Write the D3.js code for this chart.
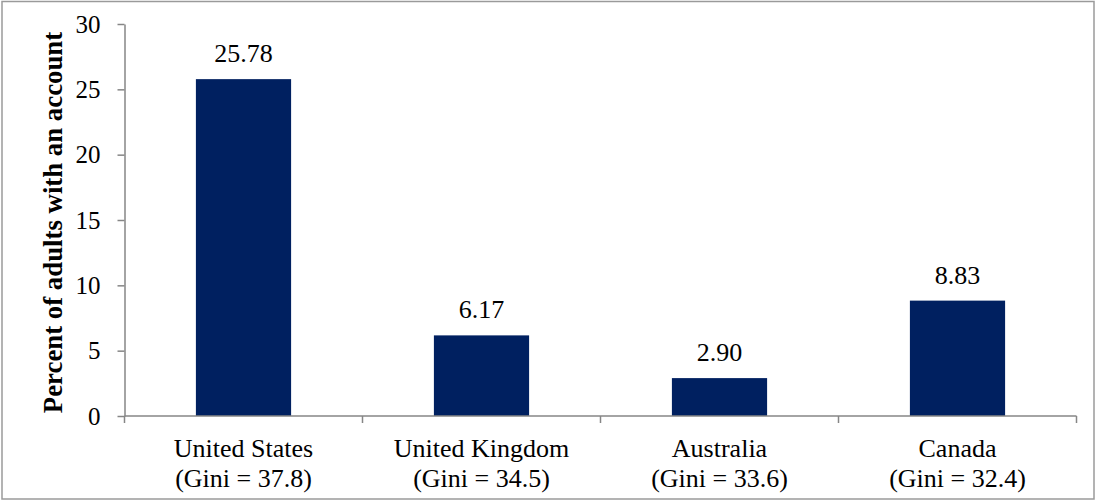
<!DOCTYPE html>
<html>
<head>
<meta charset="utf-8">
<script src="https://cdn.jsdelivr.net/npm/d3@7"></script>
<style>
  html, body { margin: 0; padding: 0; background: #fff; }
  svg { display: block; }
  svg text { font-family: "Liberation Serif", "Times New Roman", Times, serif; }
</style>
</head>
<body>
<svg id="chart" width="1096" height="501"></svg>
<script>
// Account ownership by country, with Gini index in the category labels
const countries = ["United States", "United Kingdom", "Australia", "Canada"];
const giniLabels = ["(Gini = 37.8)", "(Gini = 34.5)", "(Gini = 33.6)", "(Gini = 32.4)"];
const accountShare = [25.78, 6.17, 2.90, 8.83];
const yTicks = [0, 5, 10, 15, 20, 25, 30];

const margin = { left: 124.5, top: 24 };
const plotRight = 1076.5;
const axisColor = "#868686";
const barColor = "#002060";
const fs = 26;

const svg = d3.select("#chart");

// outer frame
svg.append("rect")
  .attr("x", 2).attr("y", 1.5)
  .attr("width", 1092).attr("height", 497.5)
  .attr("fill", "#fff")
  .attr("stroke", "#9a9a9a").attr("stroke-width", 1.5);

const x = d3.scaleBand()
  .domain(countries)
  .range([margin.left, plotRight])
  .paddingInner(0.6).paddingOuter(0.3);

const xOuter = d3.scaleBand()
  .domain(countries)
  .range([margin.left, plotRight]);

const y = d3.scaleLinear().domain([0, 30]).range([416, 24]);

// bars
svg.append("g").selectAll("rect")
  .data(accountShare)
  .join("rect")
  .attr("x", (d, i) => x(countries[i]))
  .attr("width", x.bandwidth())
  .attr("y", d => y(d))
  .attr("height", d => y(0) - y(d))
  .attr("fill", barColor);

// value labels
svg.append("g").selectAll("text")
  .data(accountShare)
  .join("text")
  .attr("x", (d, i) => x(countries[i]) + x.bandwidth() / 2)
  .attr("y", d => y(d) - 17)
  .attr("text-anchor", "middle")
  .attr("font-size", fs)
  .attr("fill", "#000")
  .text(d => d.toFixed(2));

// y axis
const yAxis = svg.append("g")
  .attr("transform", `translate(${margin.left},0)`)
  .call(d3.axisLeft(y).tickValues(yTicks).tickSize(7).tickSizeOuter(0).tickPadding(17));
yAxis.attr("font-family", null);
yAxis.select(".domain").attr("stroke", axisColor).attr("stroke-width", 1.5);
yAxis.selectAll(".tick line").attr("stroke", axisColor).attr("stroke-width", 1.5);
yAxis.selectAll(".tick text")
  .attr("font-size", 25).attr("fill", "#000");

// x axis baseline with category-boundary ticks
const xg = svg.append("g");
xg.append("line")
  .attr("x1", margin.left).attr("x2", plotRight)
  .attr("y1", y(0)).attr("y2", y(0))
  .attr("stroke", axisColor).attr("stroke-width", 1.5);
const boundaries = countries.map(c => xOuter(c)).concat([plotRight]);
xg.selectAll("line.bt")
  .data(boundaries)
  .join("line")
  .attr("class", "bt")
  .attr("x1", d => d).attr("x2", d => d)
  .attr("y1", y(0)).attr("y2", y(0) + 7)
  .attr("stroke", axisColor).attr("stroke-width", 1.5);

// category labels (two lines)
const cat = svg.append("g").selectAll("text")
  .data(countries)
  .join("text")
  .attr("text-anchor", "middle")
  .attr("font-size", fs)
  .attr("fill", "#000");
cat.append("tspan")
  .attr("x", d => xOuter(d) + xOuter.bandwidth() / 2)
  .attr("y", 457)
  .text(d => d);
cat.append("tspan")
  .attr("x", d => xOuter(d) + xOuter.bandwidth() / 2)
  .attr("y", 487)
  .text((d, i) => giniLabels[i]);

// y axis title
svg.append("text")
  .attr("transform", `translate(62,222.5) rotate(-90)`)
  .attr("text-anchor", "middle")
  .attr("font-size", 26.8)
  .attr("font-weight", "bold")
  .attr("fill", "#000")
  .text("Percent of adults with an account");
</script>
</body>
</html>
